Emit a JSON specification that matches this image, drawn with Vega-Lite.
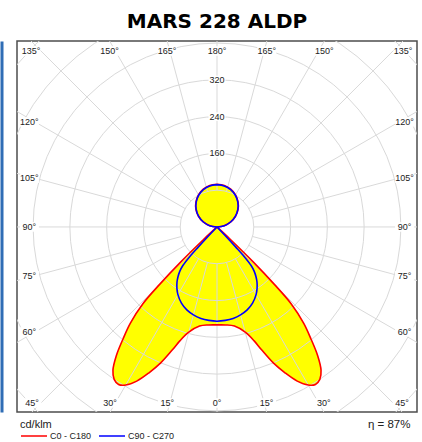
{
  "$schema": "https://vega.github.io/schema/vega-lite/v6.json",
  "width": 400,
  "height": 371,
  "autosize": {"type": "none"},
  "padding": {"left": 17, "top": 41, "right": 5, "bottom": 30},
  "background": "white",
  "title": {"text": "MARS 228 ALDP", "font": "DejaVu Sans", "fontSize": 20, "fontWeight": "bold", "color": "#000000", "anchor": "middle", "frame": "group", "offset": 9, "baseline": "bottom", "dy": 20},
  "config": {"view": {"stroke": "#4d4d4d", "strokeWidth": 1.5}, "font": "Liberation Sans"},
  "datasets": {
    "curves": [
      {"c": "C0 - C180", "s": -180, "I": 93}, {"c": "C0 - C180", "s": -170, "I": 91.6}, {"c": "C0 - C180", "s": -160, "I": 87.4}, {"c": "C0 - C180", "s": -150, "I": 80.5}, {"c": "C0 - C180", "s": -140, "I": 71.2}, {"c": "C0 - C180", "s": -130, "I": 59.8}, {"c": "C0 - C180", "s": -120, "I": 46.5}, {"c": "C0 - C180", "s": -110, "I": 31.8}, {"c": "C0 - C180", "s": -100, "I": 16.1}, {"c": "C0 - C180", "s": -90, "I": 0}, {"c": "C0 - C180", "s": -48, "I": 0}, {"c": "C0 - C180", "s": -47, "I": 40}, {"c": "C0 - C180", "s": -46, "I": 110}, {"c": "C0 - C180", "s": -45, "I": 175}, {"c": "C0 - C180", "s": -44, "I": 232}, {"c": "C0 - C180", "s": -42, "I": 282}, {"c": "C0 - C180", "s": -40, "I": 318}, {"c": "C0 - C180", "s": -38, "I": 356}, {"c": "C0 - C180", "s": -36, "I": 385}, {"c": "C0 - C180", "s": -34, "I": 400}, {"c": "C0 - C180", "s": -32, "I": 404}, {"c": "C0 - C180", "s": -30, "I": 397}, {"c": "C0 - C180", "s": -27.5, "I": 378}, {"c": "C0 - C180", "s": -25, "I": 350}, {"c": "C0 - C180", "s": -22.5, "I": 320}, {"c": "C0 - C180", "s": -20, "I": 285}, {"c": "C0 - C180", "s": -18, "I": 260}, {"c": "C0 - C180", "s": -15, "I": 237}, {"c": "C0 - C180", "s": -10, "I": 219}, {"c": "C0 - C180", "s": -5, "I": 214}, {"c": "C0 - C180", "s": 0, "I": 213},
      {"c": "C0 - C180", "s": 5, "I": 214}, {"c": "C0 - C180", "s": 10, "I": 219}, {"c": "C0 - C180", "s": 15, "I": 237}, {"c": "C0 - C180", "s": 18, "I": 260}, {"c": "C0 - C180", "s": 20, "I": 285}, {"c": "C0 - C180", "s": 22.5, "I": 320}, {"c": "C0 - C180", "s": 25, "I": 350}, {"c": "C0 - C180", "s": 27.5, "I": 378}, {"c": "C0 - C180", "s": 30, "I": 397}, {"c": "C0 - C180", "s": 32, "I": 404}, {"c": "C0 - C180", "s": 34, "I": 400}, {"c": "C0 - C180", "s": 36, "I": 385}, {"c": "C0 - C180", "s": 38, "I": 356}, {"c": "C0 - C180", "s": 40, "I": 318}, {"c": "C0 - C180", "s": 42, "I": 282}, {"c": "C0 - C180", "s": 44, "I": 232}, {"c": "C0 - C180", "s": 45, "I": 175}, {"c": "C0 - C180", "s": 46, "I": 110}, {"c": "C0 - C180", "s": 47, "I": 40}, {"c": "C0 - C180", "s": 48, "I": 0}, {"c": "C0 - C180", "s": 90, "I": 0}, {"c": "C0 - C180", "s": 100, "I": 16.1}, {"c": "C0 - C180", "s": 110, "I": 31.8}, {"c": "C0 - C180", "s": 120, "I": 46.5}, {"c": "C0 - C180", "s": 130, "I": 59.8}, {"c": "C0 - C180", "s": 140, "I": 71.2}, {"c": "C0 - C180", "s": 150, "I": 80.5}, {"c": "C0 - C180", "s": 160, "I": 87.4}, {"c": "C0 - C180", "s": 170, "I": 91.6}, {"c": "C0 - C180", "s": 180, "I": 93},
      {"c": "C90 - C270", "s": -180, "I": 92}, {"c": "C90 - C270", "s": -170, "I": 90.6}, {"c": "C90 - C270", "s": -160, "I": 86.5}, {"c": "C90 - C270", "s": -150, "I": 79.7}, {"c": "C90 - C270", "s": -140, "I": 70.5}, {"c": "C90 - C270", "s": -130, "I": 59.1}, {"c": "C90 - C270", "s": -120, "I": 46}, {"c": "C90 - C270", "s": -110, "I": 31.5}, {"c": "C90 - C270", "s": -100, "I": 16}, {"c": "C90 - C270", "s": -90, "I": 0}, {"c": "C90 - C270", "s": -45, "I": 0}, {"c": "C90 - C270", "s": -43.5, "I": 30}, {"c": "C90 - C270", "s": -43, "I": 60}, {"c": "C90 - C270", "s": -42.5, "I": 90}, {"c": "C90 - C270", "s": -41.5, "I": 112}, {"c": "C90 - C270", "s": -40, "I": 126}, {"c": "C90 - C270", "s": -38, "I": 138}, {"c": "C90 - C270", "s": -36, "I": 148}, {"c": "C90 - C270", "s": -33, "I": 160}, {"c": "C90 - C270", "s": -30, "I": 170}, {"c": "C90 - C270", "s": -25, "I": 183}, {"c": "C90 - C270", "s": -20, "I": 192}, {"c": "C90 - C270", "s": -15, "I": 198}, {"c": "C90 - C270", "s": -10, "I": 202}, {"c": "C90 - C270", "s": -5, "I": 204}, {"c": "C90 - C270", "s": 0, "I": 205},
      {"c": "C90 - C270", "s": 5, "I": 204}, {"c": "C90 - C270", "s": 10, "I": 202}, {"c": "C90 - C270", "s": 15, "I": 198}, {"c": "C90 - C270", "s": 20, "I": 192}, {"c": "C90 - C270", "s": 25, "I": 183}, {"c": "C90 - C270", "s": 30, "I": 170}, {"c": "C90 - C270", "s": 33, "I": 160}, {"c": "C90 - C270", "s": 36, "I": 148}, {"c": "C90 - C270", "s": 38, "I": 138}, {"c": "C90 - C270", "s": 40, "I": 126}, {"c": "C90 - C270", "s": 41.5, "I": 112}, {"c": "C90 - C270", "s": 42.5, "I": 90}, {"c": "C90 - C270", "s": 43, "I": 60}, {"c": "C90 - C270", "s": 43.5, "I": 30}, {"c": "C90 - C270", "s": 45, "I": 0}, {"c": "C90 - C270", "s": 90, "I": 0}, {"c": "C90 - C270", "s": 100, "I": 16}, {"c": "C90 - C270", "s": 110, "I": 31.5}, {"c": "C90 - C270", "s": 120, "I": 46}, {"c": "C90 - C270", "s": 130, "I": 59.1}, {"c": "C90 - C270", "s": 140, "I": 70.5}, {"c": "C90 - C270", "s": 150, "I": 79.7}, {"c": "C90 - C270", "s": 160, "I": 86.5}, {"c": "C90 - C270", "s": 170, "I": 90.6}, {"c": "C90 - C270", "s": 180, "I": 92}
    ],
    "rings": [{"r": 80}, {"r": 160}, {"r": 240}, {"r": 320}, {"r": 400}, {"r": 480}, {"r": 560}],
    "spokes": [{"s": -165}, {"s": -150}, {"s": -135}, {"s": -120}, {"s": -105}, {"s": -90}, {"s": -75}, {"s": -60}, {"s": -45}, {"s": -30}, {"s": -15}, {"s": 0}, {"s": 15}, {"s": 30}, {"s": 45}, {"s": 60}, {"s": 75}, {"s": 90}, {"s": 105}, {"s": 120}, {"s": 135}, {"s": 150}, {"s": 165}, {"s": 180}],
    "angles": [{"g": 0, "side": 1}, {"g": 15, "side": -1}, {"g": 15, "side": 1}, {"g": 30, "side": -1}, {"g": 30, "side": 1}, {"g": 45, "side": -1}, {"g": 45, "side": 1}, {"g": 60, "side": -1}, {"g": 60, "side": 1}, {"g": 75, "side": -1}, {"g": 75, "side": 1}, {"g": 90, "side": -1}, {"g": 90, "side": 1}, {"g": 105, "side": -1}, {"g": 105, "side": 1}, {"g": 120, "side": -1}, {"g": 120, "side": 1}, {"g": 135, "side": -1}, {"g": 135, "side": 1}, {"g": 150, "side": -1}, {"g": 150, "side": 1}, {"g": 165, "side": -1}, {"g": 165, "side": 1}, {"g": 180, "side": 1}],
    "ringlabels": [{"r": 160}, {"r": 240}, {"r": 320}]
  },
  "encoding": {
    "x": {"field": "x", "type": "quantitative", "scale": {"domain": [-435, 435], "nice": false, "zero": false},
          "axis": {"title": "η = 87%", "labels": false, "ticks": false, "domain": false, "grid": false, "titleX": 393, "titleY": 12, "titleAlign": "right", "titleBaseline": "middle", "titleAnchor": "end", "titleFontWeight": "normal", "titleFontSize": 11.5, "titleFont": "Liberation Sans", "titleColor": "#222222"}},
    "y": {"field": "y", "type": "quantitative", "scale": {"domain": [-402.5, 404.5], "nice": false, "zero": false},
          "axis": {"title": null, "labels": false, "ticks": false, "grid": false, "domain": true, "domainColor": "#2f6db5", "domainWidth": 3, "offset": 15.5}}
  },
  "layer": [
    {
      "data": {"name": "curves"},
      "transform": [
        {"calculate": "datum.I*sin(datum.s*PI/180)", "as": "x"},
        {"calculate": "-datum.I*cos(datum.s*PI/180)", "as": "y"}
      ],
      "mark": {"type": "line", "fill": "#ffff00", "strokeOpacity": 0, "strokeWidth": 0, "interpolate": "catmull-rom", "clip": true},
      "encoding": {
        "detail": {"field": "c"},
        "order": {"field": "s", "type": "quantitative"}
      }
    },
    {
      "data": {"name": "rings"},
      "transform": [
        {"calculate": "0", "as": "x"},
        {"calculate": "0", "as": "y"}
      ],
      "mark": {"type": "point", "shape": "circle", "filled": false, "stroke": "#d9d9d9", "strokeWidth": 1, "opacity": 1, "clip": true},
      "encoding": {
        "size": {"field": "r", "type": "quantitative", "scale": {"type": "pow", "exponent": 2, "domain": [0, 560], "range": [0, 265163]}, "legend": null}
      }
    },
    {
      "data": {"name": "spokes"},
      "transform": [
        {"calculate": "80*sin(datum.s*PI/180)", "as": "x"},
        {"calculate": "-80*cos(datum.s*PI/180)", "as": "y"},
        {"calculate": "900*sin(datum.s*PI/180)", "as": "x2"},
        {"calculate": "-900*cos(datum.s*PI/180)", "as": "y2"}
      ],
      "mark": {"type": "rule", "stroke": "#d9d9d9", "strokeWidth": 1, "clip": true},
      "encoding": {
        "x2": {"field": "x2"},
        "y2": {"field": "y2"}
      }
    },
    {
      "data": {"name": "curves"},
      "transform": [
        {"calculate": "datum.I*sin(datum.s*PI/180)", "as": "x"},
        {"calculate": "-datum.I*cos(datum.s*PI/180)", "as": "y"}
      ],
      "mark": {"type": "line", "strokeWidth": 1.6, "interpolate": "catmull-rom", "strokeJoin": "round", "clip": true},
      "encoding": {
        "color": {"field": "c", "type": "nominal", "scale": {"domain": ["C0 - C180", "C90 - C270"], "range": ["#ff0000", "#0000ff"]},
                  "legend": {"title": "cd/klm", "orient": "none", "legendX": 3, "legendY": 378, "direction": "horizontal", "symbolType": "stroke", "symbolSize": 676, "symbolStrokeWidth": 1.5, "clipHeight": 10, "labelFontSize": 9, "labelFont": "Liberation Sans", "labelOffset": 2, "columnPadding": 6, "titleFontSize": 11, "titleFont": "Liberation Sans", "titleFontWeight": "normal", "titlePadding": 1, "labelColor": "#222222", "titleColor": "#222222"}},
        "order": {"field": "s", "type": "quantitative"}
      }
    },
    {
      "data": {"name": "angles"},
      "transform": [
        {"calculate": "datum.g <= 45 ? datum.side*402.5*tan(datum.g*PI/180) : (datum.g >= 135 ? datum.side*404.5*tan((180-datum.g)*PI/180) : datum.side*408)", "as": "x"},
        {"calculate": "datum.g <= 45 ? -382.8 : (datum.g >= 135 ? 382.8 : -395.8*cos(datum.g*PI/180)/sin(datum.g*PI/180))", "as": "y"},
        {"calculate": "datum.g + '°'", "as": "lab"}
      ],
      "layer": [
        {
          "mark": {"type": "point", "shape": "M-1,-0.5L1,-0.5L1,0.5L-1,0.5Z", "filled": true, "fill": "#ffffff", "strokeWidth": 0, "opacity": 1, "size": 361}
        },
        {
          "mark": {"type": "text", "font": "Liberation Sans", "fontSize": 9, "color": "#222222", "align": "center", "baseline": "middle"},
          "encoding": {"text": {"field": "lab"}}
        }
      ]
    },
    {
      "data": {"name": "ringlabels"},
      "transform": [
        {"calculate": "0", "as": "x"},
        {"calculate": "datum.r", "as": "y"}
      ],
      "layer": [
        {
          "mark": {"type": "point", "shape": "M-1,-0.5L1,-0.5L1,0.5L-1,0.5Z", "filled": true, "fill": "#ffffff", "strokeWidth": 0, "opacity": 1, "size": 289}
        },
        {
          "mark": {"type": "text", "font": "Liberation Sans", "fontSize": 9, "color": "#222222", "align": "center", "baseline": "middle"},
          "encoding": {"text": {"field": "r", "type": "quantitative"}}
        }
      ]
    }
  ]
}
